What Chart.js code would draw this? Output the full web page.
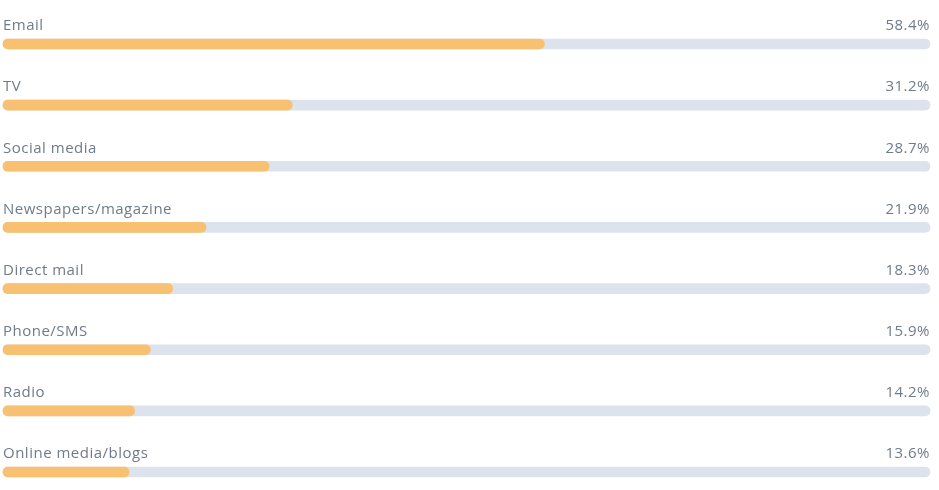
<!DOCTYPE html>
<html><head><meta charset="utf-8">
<script src="https://cdn.jsdelivr.net/npm/chart.js@4"></script>
<style>html,body{margin:0;padding:0;background:#fff;}#wrap{width:939px;height:490px;}</style>
</head><body><div id="wrap"><canvas id="c" width="939" height="490"></canvas></div>
<script>
const categories = ["Email","TV","Social media","Newspapers/magazine","Direct mail","Phone/SMS","Radio","Online media/blogs"];
const values = [58.4,31.2,28.7,21.9,18.3,15.9,14.2,13.6];
const trackValues = [100,100,100,100,100,100,100,100];

const labelPlugin = {
  id: 'labelPlugin',
  afterDatasetsDraw(chart) {
    const ctx = chart.ctx, x = chart.scales.x, y = chart.scales.y;
    ctx.save();
    ctx.fillStyle = '#6f7b8b';
    ctx.textBaseline = 'middle';
    if ('letterSpacing' in ctx) ctx.letterSpacing = '0.5px';
    categories.forEach((c, i) => {
      const yy = y.getPixelForValue(i) - 18;
      ctx.font = '15px "Open Sans", sans-serif';
      ctx.textAlign = 'left';
      ctx.fillText(c, x.getPixelForValue(0), yy);
      ctx.textAlign = 'right';
      ctx.font = '500 15px "Open Sans", sans-serif';
      ctx.fillText(values[i].toFixed(1) + '%', x.getPixelForValue(100), yy);
    });
    ctx.restore();
  }
};

new Chart(document.getElementById('c'), {
  type: 'bar',
  data: {
    labels: categories,
    datasets: [
      { data: values, backgroundColor: '#f7c171', order: 1, barThickness: 10, borderRadius: 5, borderSkipped: false, clip: false },
      { data: trackValues, backgroundColor: '#dce3ec', order: 2, barThickness: 10, borderRadius: 5, borderSkipped: false, clip: false }
    ]
  },
  options: {
    indexAxis: 'y',
    responsive: false,
    animation: false,
    devicePixelRatio: 1,
    layout: { padding: { left: 3, right: 9, top: 44, bottom: 18 } },
    datasets: { bar: { grouped: false } },
    plugins: { legend: { display: false }, tooltip: { enabled: false } },
    scales: {
      x: { display: false, min: 0, max: 100 },
      y: { display: false, offset: false, grid: { display: false } }
    }
  },
  plugins: [labelPlugin]
});
</script></body></html>
